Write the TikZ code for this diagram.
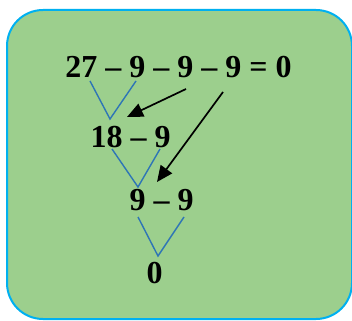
\documentclass[tikz,border=0pt]{standalone}
\usepackage{fontspec}
\setmainfont{Liberation Serif}
\usetikzlibrary{arrows.meta}
\definecolor{boxgreen}{RGB}{156,207,141}
\definecolor{boxcyan}{RGB}{0,176,240}
\definecolor{vblue}{RGB}{46,117,182}
\begin{document}
\begin{tikzpicture}[x=1pt,y=-1pt,
  txt/.style={font=\fontsize{32}{36}\selectfont\bfseries, inner sep=0pt, anchor=base},
  vline/.style={draw=vblue, line width=1.4pt},
  arr/.style={draw=black, line width=1.7pt, -{Triangle[length=16pt,width=14pt]}}]
\useasboundingbox (0,0) rectangle (352,320);
\draw[fill=boxgreen, draw=boxcyan, line width=2pt, rounded corners=36pt] (7,10) rectangle (352,319);
\node[txt] (l1) at (178.5,77.5) {27 – 9 – 9 – 9 = 0};
\node[txt] (l2) at (130.5,147.5) {18 – 9};
\node[txt] (l3) at (161.5,210.5) {9 – 9};
\node[txt] (l4) at (154.5,283.5) {0};
% V connectors
\coordinate (a1) at (90,81);  \coordinate (v1) at (110,119); \coordinate (b1) at (136,81);
\coordinate (a2) at (112,149); \coordinate (v2) at (138,187); \coordinate (b2) at (160,149);
\coordinate (a3) at (138,217); \coordinate (v3) at (158,256); \coordinate (b3) at (184,217);
\draw[vline] (a1) -- (v1) -- (b1);
\draw[vline] (a2) -- (v2) -- (b2);
\draw[vline] (a3) -- (v3) -- (b3);
% arrows
\coordinate (s1) at (186,89); \coordinate (t1) at (127,117);
\coordinate (s2) at (223,92); \coordinate (t2) at (157,182);
\draw[arr] (s1) -- (t1);
\draw[arr] (s2) -- (t2);
\end{tikzpicture}
\end{document}
